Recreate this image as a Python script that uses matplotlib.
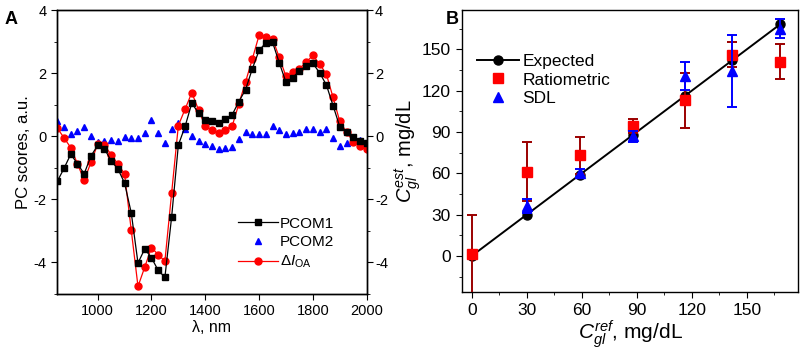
import numpy as np
import matplotlib
matplotlib.use("Agg")
import matplotlib.pyplot as plt
from matplotlib.ticker import MultipleLocator
from matplotlib.lines import Line2D

plt.rcParams['font.family'] = ['Liberation Sans', 'DejaVu Sans']
plt.rcParams['mathtext.fontset'] = 'custom'
plt.rcParams['mathtext.rm'] = 'Liberation Sans'
plt.rcParams['mathtext.it'] = 'Liberation Sans:italic'
plt.rcParams['mathtext.bf'] = 'Liberation Sans:bold'
plt.rcParams['axes.unicode_minus'] = False

# ---- Panel A data ----
wavelength = list(range(850, 2001, 25))
pcom1 = [-1.43, -1.02, -0.57, -0.87, -1.19, -0.63, -0.29, -0.39, -0.78, -1.03,
         -1.48, -2.43, -4.02, -3.57, -3.85, -4.25, -4.47, -2.56, -0.28, 0.31,
         1.05, 0.73, 0.53, 0.47, 0.41, 0.55, 0.68, 1.10, 1.48, 2.14,
         2.72, 2.96, 2.98, 2.33, 1.71, 1.86, 2.07, 2.22, 2.31, 2.01,
         1.63, 0.97, 0.30, 0.15, -0.02, -0.15, -0.23]
pcom2 = [0.49, 0.30, 0.06, 0.18, 0.30, 0.00, -0.17, -0.14, -0.11, -0.14,
         -0.03, -0.04, -0.07, 0.11, 0.51, 0.11, -0.22, 0.22, 0.42, 0.22,
         0.00, -0.15, -0.25, -0.32, -0.40, -0.36, -0.33, -0.10, 0.15, 0.08,
         0.06, 0.06, 0.32, 0.19, 0.06, 0.11, 0.13, 0.23, 0.23, 0.15,
         0.23, -0.04, -0.32, -0.23, -0.02, -0.13, -0.21]
delta_ioa = [0.26, -0.05, -0.36, -0.87, -1.40, -0.83, -0.26, -0.28, -0.58, -0.88,
             -1.19, -2.98, -4.76, -4.15, -3.53, -3.75, -3.96, -1.80, 0.34, 0.86,
             1.38, 0.84, 0.31, 0.20, 0.10, 0.21, 0.32, 1.03, 1.73, 2.45,
             3.20, 3.15, 3.09, 2.50, 1.90, 2.03, 2.14, 2.35, 2.56, 2.29,
             1.97, 1.23, 0.47, 0.13, -0.17, -0.30, -0.39]

# ---- Panel B data ----
c_ref = [0, 30, 59, 88, 116, 142, 168]
expected = [0, 30, 59, 88, 116, 142, 168]
ratio_x = [0, 30, 59, 88, 116, 142, 168]
ratio_y = [1, 61, 73, 94.5, 113, 146, 141]
ratio_err = [29, 21.5, 13.5, 5, 20, 9, 12.7]
sdl_x = [30, 59, 88, 116, 142, 168]
sdl_y = [36, 60, 87, 130.5, 134, 165]
sdl_err = [5, 3, 4, 10, 26, 7]

fig = plt.figure(figsize=(8.01, 3.53), dpi=100)

# ---------------- Panel A ----------------
axA = fig.add_axes([0.0715, 0.1671, 0.3863, 0.8045])
axA.plot(wavelength, pcom1, color='black', marker='s', ms=3.8, lw=0.9,
         label='PCOM1', zorder=3)
axA.plot(wavelength, pcom2, color='blue', marker='^', ms=5, lw=0,
         linestyle='none', label='PCOM2', zorder=2)
axA.plot(wavelength, delta_ioa, color='red', marker='o', ms=5, lw=0.9,
         label=r'$\Delta I_{\mathrm{OA}}$', zorder=2.5)
axA.set_xlim(850, 2000)
axA.set_ylim(-5, 4)
axA.xaxis.set_major_locator(MultipleLocator(200))
axA.yaxis.set_major_locator(MultipleLocator(2))
axA.yaxis.set_minor_locator(MultipleLocator(1))
axA.tick_params(axis='both', which='both', direction='out', labelsize=10.5,
                top=False, right=False)
axA.tick_params(which='major', length=4)
axA.tick_params(which='minor', length=2.5)
axA.set_xlabel('λ, nm', fontsize=11.5, labelpad=1)
axA.set_ylabel('PC scores, a.u.', fontsize=12, labelpad=2)
axA2 = axA.twinx()
axA2.set_ylim(-5, 4)
axA2.yaxis.set_major_locator(MultipleLocator(2))
axA2.yaxis.set_minor_locator(MultipleLocator(1))
axA2.tick_params(axis='y', which='both', direction='out', labelsize=10.5,
                 pad=2)
axA2.tick_params(which='major', length=4)
axA2.tick_params(which='minor', length=2.5)
leg = axA.legend(loc='lower right', bbox_to_anchor=(0.94, 0.035), frameon=False,
                 fontsize=11, handlelength=2.6, handletextpad=0.15,
                 labelspacing=0.3)
for sp in list(axA.spines.values()) + list(axA2.spines.values()):
    sp.set_linewidth(1.0)
fig.text(0.006, 0.97, 'A', fontsize=13, fontweight='bold', va='top')

# ---------------- Panel B ----------------
axB = fig.add_axes([0.5764, 0.1737, 0.4202, 0.798])
axB.plot(c_ref, expected, color='black', marker='o', ms=6.5, lw=1.4,
         label='Expected', zorder=2)
axB.errorbar(ratio_x, ratio_y, yerr=ratio_err, fmt='s', color='red',
             mfc='red', mec='red', ms=6.5, ecolor='#9b0000', elinewidth=1.4,
             capsize=3.6, capthick=1.4, label='Ratiometric', zorder=3)
axB.errorbar(sdl_x, sdl_y, yerr=sdl_err, fmt='^', color='blue',
             mfc='blue', mec='blue', ms=7.5, ecolor='blue', elinewidth=1.4,
             capsize=3.6, capthick=1.4, label='SDL', zorder=4)
axB.set_xlim(-5.5, 178)
axB.set_ylim(-26, 178.5)
axB.xaxis.set_major_locator(MultipleLocator(30))
axB.xaxis.set_minor_locator(MultipleLocator(15))
axB.yaxis.set_major_locator(MultipleLocator(30))
axB.yaxis.set_minor_locator(MultipleLocator(15))
axB.tick_params(axis='both', which='both', direction='out', labelsize=12.5,
                top=False, right=False)
axB.tick_params(which='major', length=4.5)
axB.tick_params(which='minor', length=2.5)
axB.set_xlabel(r'$C_{gl}^{ref}$, mg/dL', fontsize=15, labelpad=0)
axB.set_ylabel(r'$C_{gl}^{est}$, mg/dL', fontsize=14.5, labelpad=-1)
handles = [
    Line2D([], [], color='black', marker='o', ms=6.5, lw=1.4),
    Line2D([], [], color='red', marker='s', ms=6.5, lw=0),
    Line2D([], [], color='blue', marker='^', ms=7.5, lw=0),
]
labels = ['Expected', 'Ratiometric', 'SDL']
axB.legend(handles, labels, loc='upper left', bbox_to_anchor=(0.0, 0.9),
           frameon=False, fontsize=12.5, handlelength=2.4,
           handletextpad=0.2, labelspacing=0.2)
for sp in axB.spines.values():
    sp.set_linewidth(1.0)
fig.text(0.556, 0.97, 'B', fontsize=13, fontweight='bold', va='top')

fig.savefig('out.png', dpi=100)
